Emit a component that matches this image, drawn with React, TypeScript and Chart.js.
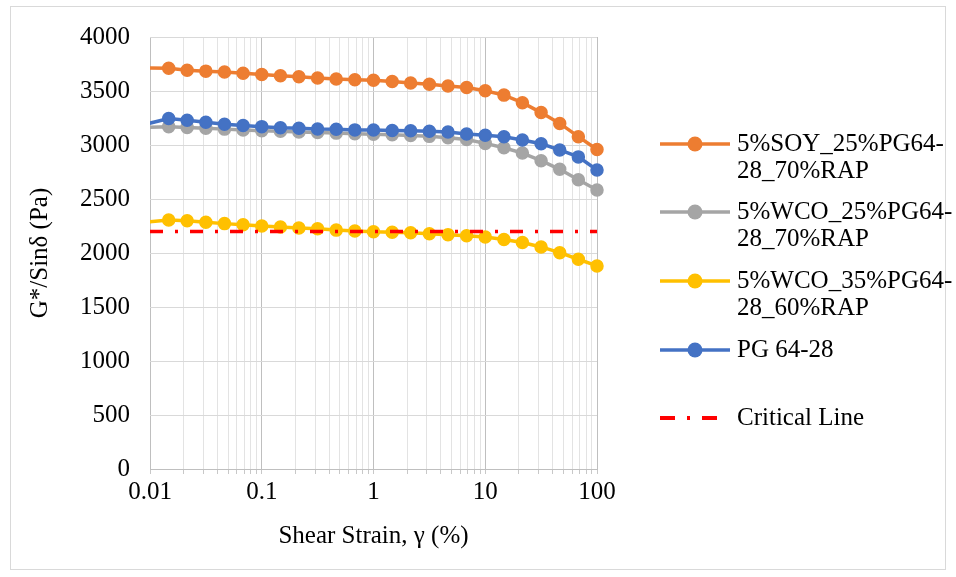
import React, { useEffect, useRef } from 'react';
import { Chart, registerables } from 'chart.js';

Chart.register(...registerables);

// ---- data ----
const strain = [0.00681, 0.0147, 0.0215, 0.0316, 0.0464, 0.0681, 0.1, 0.147, 0.215, 0.316, 0.464, 0.681, 1, 1.47, 2.15, 3.16, 4.64, 6.81, 10, 14.7, 21.5, 31.6, 46.4, 68.1, 100];
const soy25 = [3715, 3710, 3693, 3684, 3675, 3664, 3652, 3641, 3631, 3621, 3612, 3605, 3600, 3588, 3575, 3562, 3547, 3532, 3503, 3462, 3392, 3300, 3200, 3077, 2958];
const wco25 = [3160, 3170, 3163, 3155, 3147, 3140, 3133, 3127, 3121, 3115, 3110, 3105, 3100, 3095, 3088, 3080, 3068, 3050, 3015, 2975, 2925, 2855, 2775, 2678, 2583];
const wco35 = [2275, 2305, 2298, 2285, 2272, 2262, 2250, 2241, 2232, 2225, 2212, 2203, 2196, 2193, 2187, 2179, 2170, 2160, 2148, 2125, 2097, 2056, 2003, 1942, 1880];
const pg6428 = [3160, 3245, 3230, 3210, 3192, 3180, 3170, 3160, 3155, 3148, 3145, 3140, 3138, 3135, 3132, 3127, 3120, 3102, 3090, 3077, 3046, 3012, 2954, 2890, 2769];
const criticalX = [0.01, 100];
const criticalY = [2200, 2200];

const seriesNames = ['5%SOY_25%PG64-28_70%RAP', '5%WCO_25%PG64-28_70%RAP', '5%WCO_35%PG64-28_60%RAP', 'PG 64-28', 'Critical Line'];
const legendText = [
  ['5%SOY_25%PG64-', '28_70%RAP'],
  ['5%WCO_25%PG64-', '28_70%RAP'],
  ['5%WCO_35%PG64-', '28_60%RAP'],
  ['PG 64-28'],
  ['Critical Line'],
];
const xTickValues = [0.01, 0.1, 1, 10, 100];
const xTickLabels = ['0.01', '0.1', '1', '10', '100'];
const yMin = 0;
const yMax = 4000;
const yStep = 500;
const xTitle = 'Shear Strain, γ (%)';
const yTitle = 'G*/Sinδ (Pa)';

const colors = ['#ED7D31', '#A5A5A5', '#FFC000', '#4472C4', '#FF0000'];
const FONT = "'Liberation Serif', 'Times New Roman', serif";
const FS = 25;

function gridValues(): number[] {
  const out: number[] = [];
  for (let e = -2; e < 2; e++) {
    const d = Math.pow(10, e);
    for (let m = 1; m <= 9; m++) out.push(parseFloat((m * d).toPrecision(6)));
  }
  out.push(100);
  return out;
}

const isMajor = (v: number) => xTickValues.some((t) => Math.abs(t - v) / t < 1e-6);

const framePlugin = {
  id: 'frame',
  beforeDraw(chart: any) {
    const ctx = chart.ctx;
    ctx.save();
    ctx.fillStyle = '#ffffff';
    ctx.fillRect(0, 0, chart.width, chart.height);
    ctx.strokeStyle = '#D9D9D9';
    ctx.lineWidth = 1;
    ctx.strokeRect(10.5, 6.5, 935, 563);
    ctx.restore();
  },
};

const legendPlugin = {
  id: 'customLegend',
  afterDraw(chart: any) {
    const ctx = chart.ctx;
    const ys = [144, 212, 281, 350, 418];
    ctx.save();
    ctx.font = `${FS}px ${FONT}`;
    ctx.textBaseline = 'middle';
    ctx.textAlign = 'left';
    legendText.forEach((lines, i) => {
      const y = ys[i];
      ctx.strokeStyle = colors[i];
      ctx.fillStyle = colors[i];
      if (i < 4) {
        ctx.setLineDash([]);
        ctx.lineWidth = 3.5;
        ctx.beginPath();
        ctx.moveTo(660, y);
        ctx.lineTo(730, y);
        ctx.stroke();
        ctx.beginPath();
        ctx.arc(695, y, 7.5, 0, Math.PI * 2);
        ctx.fill();
      } else {
        ctx.setLineDash([15, 12, 3, 12]);
        ctx.lineWidth = 4;
        ctx.beginPath();
        ctx.moveTo(660, y);
        ctx.lineTo(720, y);
        ctx.stroke();
        ctx.setLineDash([]);
      }
      ctx.fillStyle = '#000';
      lines.forEach((t, j) => ctx.fillText(t, 737, y + j * 27.5));
    });
    ctx.restore();
  },
};

export default function App() {
  const ref = useRef<HTMLCanvasElement>(null);
  useEffect(() => {
    const canvas = ref.current!;
    const mk = (arr: number[]) => strain.map((x, i) => ({ x, y: arr[i] }));
    const clip = { left: 0, top: 10, right: 10, bottom: 10 };
    const seriesData = [soy25, wco25, wco35, pg6428];
    const datasets: any[] = seriesData.map((arr, i) => ({
      label: seriesNames[i],
      data: mk(arr),
      borderColor: colors[i],
      backgroundColor: colors[i],
      borderWidth: 3.5,
      pointRadius: 6,
      pointBorderWidth: 1.5,
      pointBackgroundColor: colors[i],
      pointBorderColor: colors[i],
      tension: 0,
      clip,
      order: 4 - i,
    }));
    datasets.push({
      label: seriesNames[4],
      data: criticalX.map((x, i) => ({ x, y: criticalY[i] })),
      borderColor: colors[4],
      backgroundColor: colors[4],
      borderWidth: 3.5,
      borderDash: [13, 12, 3, 12],
      pointRadius: 0,
      tension: 0,
      clip,
      order: 0,
    });
    const gv = gridValues();
    const chart = new Chart(canvas, {
      type: 'line',
      data: { datasets },
      options: {
        responsive: false,
        animation: false,
        events: [],
        layout: { padding: { left: 10, top: 37, right: 359, bottom: 7 } },
        plugins: { legend: { display: false }, tooltip: { enabled: false } },
        scales: {
          x: {
            type: 'logarithmic',
            min: 0.01,
            max: 100,
            afterBuildTicks: (s: any) => {
              s.ticks = gv.map((v) => ({ value: v, major: isMajor(v) }));
            },
            afterFit: (s: any) => {
              s.height = 101;
            },
            ticks: {
              autoSkip: false,
              maxRotation: 0,
              minRotation: 0,
              padding: 3,
              color: '#000',
              font: { family: FONT, size: FS },
              callback: (v: any) => {
                const idx = xTickValues.findIndex((t) => Math.abs(t - Number(v)) / t < 1e-6);
                return idx >= 0 ? xTickLabels[idx] : '';
              },
            },
            grid: {
              color: (c: any) => (c.tick && isMajor(c.tick.value) ? '#BFBFBF' : '#E3E3E3'),
              tickColor: '#C8C8C8',
              tickLength: 5,
              lineWidth: 1,
            },
            border: { display: true, color: '#BFBFBF', width: 1 },
            title: {
              display: true,
              text: xTitle,
              color: '#000',
              font: { family: FONT, size: FS },
              padding: { top: 0, bottom: 19 },
            },
          },
          y: {
            type: 'linear',
            min: yMin,
            max: yMax,
            afterFit: (s: any) => {
              s.width = 140;
            },
            ticks: {
              stepSize: yStep,
              padding: 20,
              color: '#000',
              font: { family: FONT, size: FS },
              callback: (v: any) => String(v),
            },
            grid: { color: '#D9D9D9', drawTicks: false, lineWidth: 1 },
            border: { display: false },
            title: {
              display: true,
              text: yTitle,
              color: '#000',
              font: { family: FONT, size: FS },
              padding: { top: 15, bottom: 0 },
            },
          },
        },
      } as any,
      plugins: [framePlugin, legendPlugin],
    });
    return () => chart.destroy();
  }, []);
  return (
    <div style={{ position: 'fixed', left: 0, top: 0, width: 956, height: 577, background: '#fff' }}>
      <canvas ref={ref} width={956} height={577} style={{ display: 'block', width: 956, height: 577 }} />
    </div>
  );
}
